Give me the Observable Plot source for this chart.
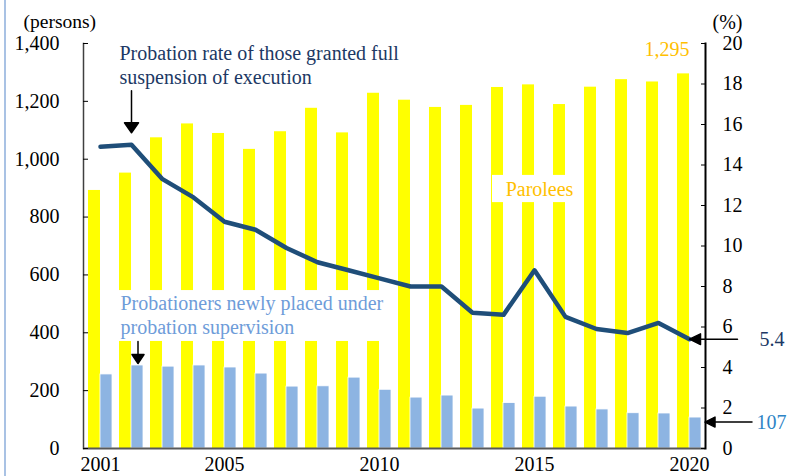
<!DOCTYPE html>
<html>
<head>
<meta charset="utf-8">
<script src="https://cdn.jsdelivr.net/npm/d3@7"></script>
<script src="https://cdn.jsdelivr.net/npm/@observablehq/plot@0.6"></script>
<style>
  body { margin: 0; background: #fff; }
  #wrap { position: relative; width: 789px; height: 476px; overflow: hidden; }
  #edge { position: absolute; left: 4px; top: 0; width: 2px; height: 476px; background: #a9c2e4; }
</style>
</head>
<body>
<div id="wrap"><div id="edge"></div></div>
<script>
// ---- data ----
const years = [2001, 2002, 2003, 2004, 2005, 2006, 2007, 2008, 2009, 2010,
               2011, 2012, 2013, 2014, 2015, 2016, 2017, 2018, 2019, 2020];
const parolees = [892, 952, 1074, 1122, 1089, 1034, 1095, 1176, 1091, 1228,
                  1204, 1179, 1186, 1248, 1257, 1189, 1249, 1275, 1267, 1295];
const probationers = [256, 287, 283, 287, 280, 259, 214, 215, 245, 203,
                      176, 183, 138, 157, 179, 145, 135, 122, 121, 107];
const rate = [14.9, 15.0, 13.3, 12.4, 11.2, 10.8, 9.9, 9.2, 8.8, 8.4,
              8.0, 8.0, 6.7, 6.6, 8.8, 6.5, 5.9, 5.7, 6.2, 5.4];
const xTicks = [2001, 2005, 2010, 2015, 2020];
const leftTicks = [0, 200, 400, 600, 800, 1000, 1200, 1400];
const rightTicks = [0, 2, 4, 6, 8, 10, 12, 14, 16, 18, 20];
const leftMax = 1400, rightMax = 20;
const K = leftMax / rightMax; // percent -> persons

const data = years.map((year, i) => ({year, parolees: parolees[i], probationers: probationers[i], rate: rate[i]}));
const last = data.length - 1;

// colours
const navy = "#203864", lineCol = "#1F4E79", yellow = "#FFFF00", blue = "#8DB4E2",
      orange = "#FFC000", lightBlueText = "#6E9CD9", blue107 = "#2E84C6";

// filled arrow shape for vectors (tip at -l)
function filledArrow(h, w) {
  return {
    draw(ctx, l) {
      ctx.moveTo(0, 0); ctx.lineTo(0, -l + h);
      ctx.moveTo(-w, -l + h); ctx.lineTo(0, -l); ctx.lineTo(w, -l + h); ctx.closePath();
    }
  };
}

// white mask behind annotation labels
function mask(fromYear, toYear, padL, padR, v1, v2) {
  return (index, scales, values, dims, context) => {
    const x = scales.x, y = scales.y;
    const r = context.document.createElementNS("http://www.w3.org/2000/svg", "rect");
    const xa = x(fromYear) - padL, xb = x(toYear) + padR;
    r.setAttribute("x", xa); r.setAttribute("width", xb - xa);
    r.setAttribute("y", y(v2)); r.setAttribute("height", y(v1) - y(v2));
    r.setAttribute("fill", "white");
    return r;
  };
}

const serif = '"Liberation Serif", "Times New Roman", serif';

const chart = Plot.plot({
  width: 789, height: 476,
  marginLeft: 83, marginRight: 84, marginTop: 43, marginBottom: 28,
  style: {fontFamily: serif, fontSize: "20px", background: "white", color: "black", overflow: "visible"},
  x: {type: "band", domain: years, paddingInner: 0.23, paddingOuter: 0.1},
  y: {domain: [0, leftMax]},
  marks: [
    Plot.barY(data, {x: "year", y: "parolees", fill: yellow, insetRight: 12}),
    Plot.barY(data, {x: "year", y: "probationers", fill: blue, insetLeft: 12, stroke: "white", strokeWidth: 0.8}),
    mask(2002, 2011, 2, -7, 370, 546),
    mask(2014, 2017, -1, 0, 850, 944),
    // axes
    Plot.ruleY([0], {stroke: "#595959", strokeWidth: 2}),
    Plot.frame({anchor: "left", stroke: "#404040", strokeWidth: 1.5}),
    Plot.frame({anchor: "right", stroke: "#000", strokeWidth: 2}),
    Plot.axisY(leftTicks, {anchor: "left", tickSize: 0, tickPadding: 24, tickFormat: d3.format(","), label: null}),
    Plot.axisY(leftTicks, {anchor: "left", tickSize: 5, dx: 5, fill: "none", label: null}),
    Plot.axisY(rightTicks.map(d => d * K), {anchor: "right", tickSize: 0, tickPadding: 17, textAnchor: "start", tickFormat: d => Math.round(d / K), label: null}),
    Plot.axisY(rightTicks.map(d => d * K), {anchor: "right", tickSize: 5, dx: -5, fill: "none", label: null}),
    Plot.axisX(xTicks, {tickSize: 0, tickPadding: 8, tickFormat: d => String(d), label: null}),
    Plot.text(["(persons)"], {frameAnchor: "top-left", dx: -60, dy: -29, textAnchor: "start", fontSize: 19.5}),
    Plot.text(["(%)"], {frameAnchor: "top-right", dx: 7, dy: -29, textAnchor: "start"}),
    // rate line
    Plot.line(data, {x: "year", y: d => d.rate * K, stroke: lineCol, strokeWidth: 4.5, strokeLinejoin: "round"}),
    // annotations
    Plot.text([data[1]], {x: "year", y: () => 1327, dx: -12, textAnchor: "start", lineHeight: 1.2, fill: navy,
      text: () => "Probation rate of those granted full\nsuspension of execution"}),
    Plot.vector([data[1]], {x: "year", y: d => d.rate * K, dy: -12, rotate: 180, length: 42, anchor: "end",
      shape: filledArrow(10, 7), stroke: "black", fill: "black", strokeWidth: 1.5}),
    Plot.text([data[1]], {x: "year", y: () => 463, dx: -11, textAnchor: "start", lineHeight: 1.2, fill: lightBlueText,
      text: () => "Probationers newly placed under\nprobation supervision"}),
    Plot.vector([data[1]], {x: "year", y: "probationers", dx: 6.5, dy: -2, rotate: 180, length: 22, anchor: "end",
      shape: filledArrow(9, 6), stroke: "black", fill: "black", strokeWidth: 1.5}),
    Plot.text([data[14]], {x: "year", y: () => 895, dx: 5, fill: orange, text: () => "Parolees"}),
    Plot.text([data[last]], {x: "year", y: "parolees", dy: -24, textAnchor: "end", fill: orange,
      text: d => d3.format(",")(d.parolees)}),
    Plot.vector([data[last]], {x: "year", y: d => d.rate * K, rotate: -90, length: 48, anchor: "end",
      shape: filledArrow(11, 5.3), stroke: "black", fill: "black", strokeWidth: 1.5}),
    Plot.text([data[last]], {x: "year", y: d => d.rate * K, dx: 70, textAnchor: "start", fill: navy,
      text: d => d3.format(".1f")(d.rate)}),
    Plot.vector([data[last]], {x: "year", y: "probationers", dx: 15.5, dy: 4.5, rotate: -90, length: 47, anchor: "end",
      shape: filledArrow(10, 5), stroke: "black", fill: "black", strokeWidth: 1.5}),
    Plot.text([data[last]], {x: "year", y: "probationers", dx: 67, dy: 5, textAnchor: "start", fill: blue107,
      text: d => String(d.probationers)})
  ]
});
document.getElementById("wrap").prepend(chart);
</script>
</body>
</html>
